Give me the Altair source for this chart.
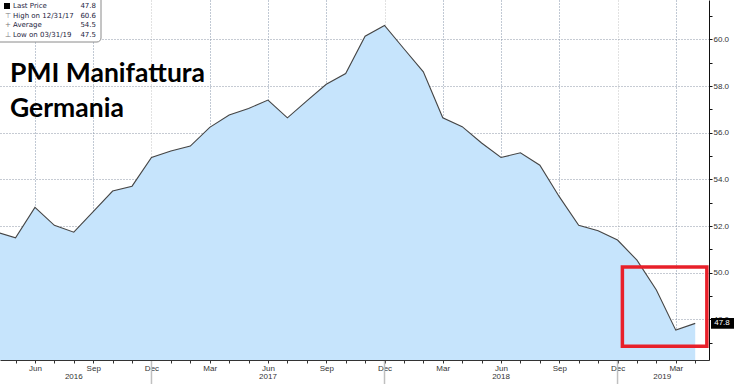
import altair as alt
import pandas as pd

# ---- data (monthly, Apr 2016 .. Apr 2019) ----
month_index = list(range(37))
pmi = [51.75, 51.5, 52.8, 52.03, 51.74, 52.62, 53.5, 53.71, 54.94,
       55.22, 55.43, 56.23, 56.76, 57.04, 57.4, 56.64, 57.37, 58.08, 58.54, 60.14, 60.6,
       59.6, 58.61, 56.64, 56.26, 55.56, 54.94, 55.14, 54.61, 53.26, 52.03, 51.8, 51.4,
       50.54, 49.26, 47.54, 47.83]
month_names = ["Apr", "May", "Jun", "Jul", "Aug", "Sep", "Oct", "Nov", "Dec", "Jan", "Feb", "Mar"]
year_labels = ["2016", "2017", "2018", "2019"]
year_pos = [4, 14, 26, 34.3]
year_breaks = [8, 20, 32]
y_ticks = list(range(47, 62))

legend_labels = ["Last Price", "High on 12/31/17", "Average", "Low on 03/31/19"]
legend_values = ["47.8", "60.6", "54.5", "47.5"]
legend_symbols = ["", "⊤", "+", "⊥"]

box_x = [32.25, 36.6]
box_y = [46.85, 50.25]

title_lines = ["PMI Manifattura", "Germania"]

X_DOMAIN = [0.2, 36.71]
Y_DOMAIN = [46.26, 61.69]

df = pd.DataFrame({"idx": month_index, "pmi": pmi})

names_js = "[" + ",".join("'%s'" % m for m in month_names) + "]"

x_scale = alt.Scale(domain=X_DOMAIN, nice=False, zero=False)
y_scale = alt.Scale(domain=Y_DOMAIN, nice=False, zero=False)

x_axis = alt.Axis(
    values=month_index,
    labelExpr="datum.value % 3 == 2 ? " + names_js + "[datum.value % 12] : ''",
    grid=True,
    gridDash=[1, 2],
    gridColor={"condition": {"test": "datum.value % 12 == 8", "value": "#c4c4c4"}, "value": "#8392a8"},
    gridOpacity={"condition": {"test": "datum.value % 3 != 2", "value": 0}, "value": 1},
    tickSize=3, tickColor="#333", domainColor="#333",
    labelFont="Liberation Sans", labelFontSize=8, labelColor="#333",
    labelPadding=1, title=None, labelFlush=False, labelOverlap=False,
)
y_axis = alt.Axis(
    orient="right",
    values=y_ticks,
    labelExpr="datum.value % 2 == 0 ? format(datum.value, '.1f') : ''",
    grid=True, gridDash=[1, 2], gridColor="#8c97a6",
    gridOpacity={"condition": {"test": "datum.value % 2 != 0", "value": 0}, "value": 1},
    tickSize=3, tickColor="#111", domainColor="#111",
    labelFont="Liberation Sans", labelFontSize=8, labelColor="#333",
    labelPadding=1, title=None, labelFlush=False, labelOverlap=False,
)

base = alt.Chart(df)

area = base.mark_area(color="#c6e4fc", clip=True).encode(
    x=alt.X("idx:Q", scale=x_scale, axis=x_axis),
    y=alt.Y("pmi:Q", scale=y_scale, axis=y_axis),
    y2=alt.datum(Y_DOMAIN[0]),
)
line = base.mark_line(color="#454545", strokeWidth=1.1, clip=True).encode(
    x=alt.X("idx:Q", scale=x_scale, axis=x_axis),
    y=alt.Y("pmi:Q", scale=y_scale, axis=y_axis),
)

years = alt.Chart(pd.DataFrame({"pos": year_pos, "label": year_labels})).mark_text(
    font="Liberation Sans", fontSize=8, color="#333", baseline="alphabetic"
).encode(x=alt.X("pos:Q", scale=x_scale, axis=x_axis), y=alt.value(379), text="label:N")

breaks = alt.Chart(pd.DataFrame({"pos": year_breaks})).mark_rule(
    color="#c0c0c0", strokeWidth=1.5
).encode(x=alt.X("pos:Q", scale=x_scale, axis=x_axis), y=alt.value(361), y2=alt.value(384))

redbox = alt.Chart(pd.DataFrame({"x1": [box_x[0]], "x2": [box_x[1]],
                                 "y1": [box_y[0]], "y2": [box_y[1]]})).mark_rect(
    fill=None, stroke="#e8202a", strokeWidth=3.5
).encode(
    x=alt.X("x1:Q", scale=x_scale, axis=x_axis), x2="x2:Q",
    y=alt.Y("y1:Q", scale=y_scale, axis=y_axis), y2="y2:Q",
)

# title text (two lines)
titles = alt.Chart(pd.DataFrame({"a": [0]})).mark_text(
    font="Lato", fontWeight="bold", fontSize=26.5, color="#000", align="left",
    baseline="alphabetic", lineHeight=35
).encode(x=alt.value(10), y=alt.value(82), text=alt.value(title_lines))

# legend box
legbox = alt.Chart(pd.DataFrame({"a": [0]})).mark_rect(
    fill="white", stroke="#8a8a8a", strokeWidth=1, cornerRadiusBottomRight=4
).encode(x=alt.value(-2), x2=alt.value(101), y=alt.value(-2), y2=alt.value(42))
LH = 9.5
leg_text = alt.Chart(pd.DataFrame({"a": [0]})).mark_text(
    font="DejaVu Sans", fontSize=7, color="#1c2340", align="left", baseline="middle",
    lineHeight=LH
).encode(x=alt.value(13), y=alt.value(6), text=alt.value(legend_labels))
leg_val = alt.Chart(pd.DataFrame({"a": [0]})).mark_text(
    font="DejaVu Sans", fontSize=7, color="#1c2340", align="right", baseline="middle",
    lineHeight=LH
).encode(x=alt.value(96), y=alt.value(6), text=alt.value(legend_values))
leg_sym = alt.Chart(pd.DataFrame({"a": [0]})).mark_text(
    font="DejaVu Sans", fontSize=7, color="#777", align="center", baseline="middle",
    lineHeight=LH
).encode(x=alt.value(8), y=alt.value(6), text=alt.value(legend_symbols))
leg_sq = alt.Chart(pd.DataFrame({"a": [0]})).mark_rect(color="#000").encode(
    x=alt.value(4), x2=alt.value(10), y=alt.value(3), y2=alt.value(9)
)

# last price tag
last_df = pd.DataFrame({"v": [pmi[-1]], "t": [legend_values[0]]})
tag_rect = alt.Chart(last_df).transform_calculate(
    hi="datum.v + 0.23", lo="datum.v - 0.23"
).mark_rect(color="#000").encode(
    x=alt.value(711), x2=alt.value(734),
    y=alt.Y("hi:Q", scale=y_scale, axis=y_axis), y2="lo:Q"
)
tag_text = alt.Chart(last_df).mark_text(
    font="Liberation Sans", fontSize=8, color="white", align="center", baseline="middle"
).encode(x=alt.value(722), y=alt.Y("v:Q", scale=y_scale, axis=y_axis), text="t:N")

chart = alt.layer(
    area, line, breaks, years, redbox, titles,
    legbox, leg_sq, leg_sym, leg_text, leg_val, tag_rect, tag_text
).properties(
    width=709, height=360,
    autosize=alt.AutoSizeParams(type="none"),
    padding={"left": 0, "top": 0, "right": 27, "bottom": 24},
).configure_view(stroke=None).configure_axis(labelOverlap=False)

chart.save("out.html", embed_options={"renderer": "svg", "actions": False})
